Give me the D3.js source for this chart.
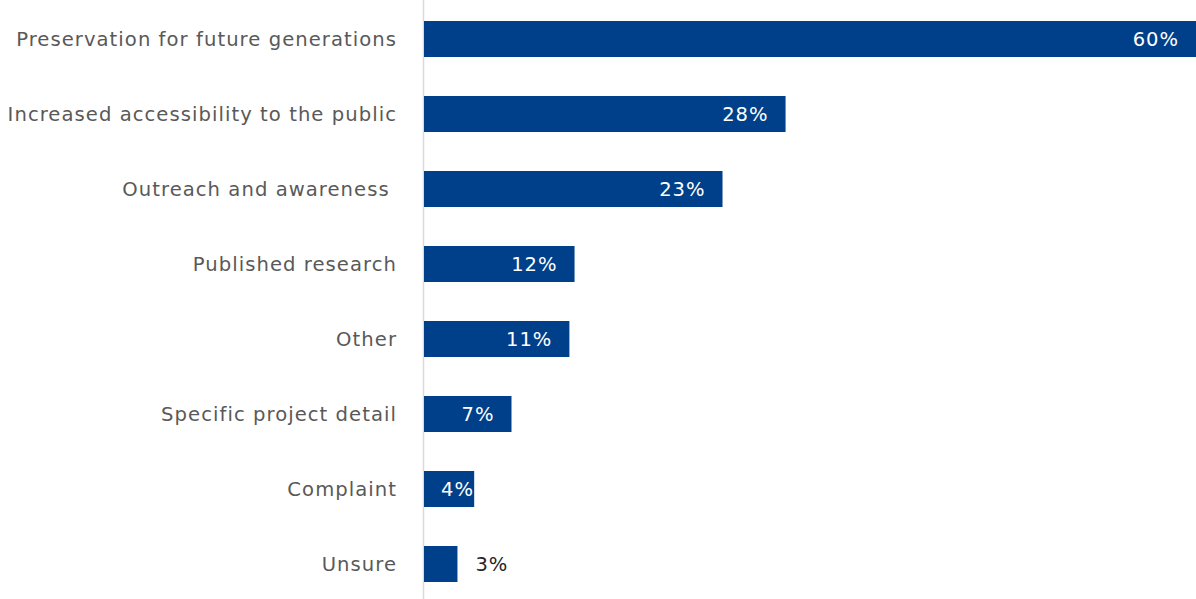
<!DOCTYPE html>
<html><head><meta charset="utf-8">
<script src="https://cdn.jsdelivr.net/npm/d3@7"></script>
<style>
html,body{margin:0;padding:0;background:#fff;}
svg{display:block;}
text{white-space:pre;}
</style></head>
<body>
<svg id="chart" width="1196" height="599"></svg>
<script>
const categories = [
  "Preservation for future generations",
  "Increased accessibility to the public",
  "Outreach and awareness ",
  "Published research",
  "Other",
  "Specific project detail",
  "Complaint",
  "Unsure"
];
const values = [60, 28.1, 23.2, 11.7, 11.3, 6.8, 3.9, 2.6];
const valueLabels = ["60%", "28%", "23%", "12%", "11%", "7%", "4%", "3%"];

const W = 1196, H = 599;
const svg = d3.select("#chart");
const x = d3.scaleLinear().domain([0, 60]).range([424, 1196]);
const y = d3.scaleBand().domain(categories).range([1.5, 601.5]).paddingInner(0.52).paddingOuter(0.26);
const font = "'DejaVu Sans', sans-serif";

// axis line
svg.append("line")
  .attr("x1", 423.5).attr("x2", 423.5)
  .attr("y1", 0).attr("y2", H)
  .attr("stroke", "#d9d9d9").attr("stroke-width", 1.5);

const data = categories.map((c, i) => ({c, v: values[i], l: valueLabels[i]}));

svg.selectAll("rect.bar").data(data).join("rect")
  .attr("class", "bar")
  .attr("x", x(0))
  .attr("y", d => y(d.c))
  .attr("width", d => x(d.v) - x(0))
  .attr("height", y.bandwidth())
  .attr("fill", "#003f8a");

// category labels
svg.selectAll("text.cat").data(data).join("text")
  .attr("class", "cat")
  .attr("x", 397)
  .attr("y", d => y(d.c) + y.bandwidth() / 2)
  .attr("text-anchor", "end")
  .attr("dominant-baseline", "central")
  .attr("font-family", font)
  .attr("font-size", 19.6)
  .attr("letter-spacing", 1.05)
  .attr("fill", "#595959")
  .text(d => d.c);

// value labels
svg.selectAll("text.val").data(data).join("text")
  .attr("class", "val")
  .attr("y", d => y(d.c) + y.bandwidth() / 2)
  .attr("dominant-baseline", "central")
  .attr("font-family", font)
  .attr("font-size", 19.5)
  .attr("letter-spacing", 1)
  .text(d => d.l)
  .each(function(d) {
    const t = d3.select(this);
    const w = this.getComputedTextLength();
    const start = x(0), end = x(d.v);
    if (end - start >= w + 15) {
      const right = Math.max(end - 17, start + 17 + w);
      t.attr("x", right).attr("text-anchor", "end").attr("fill", "#ffffff");
    } else {
      t.attr("x", end + 18).attr("text-anchor", "start").attr("fill", "#262626");
    }
  });
</script>
</body></html>
